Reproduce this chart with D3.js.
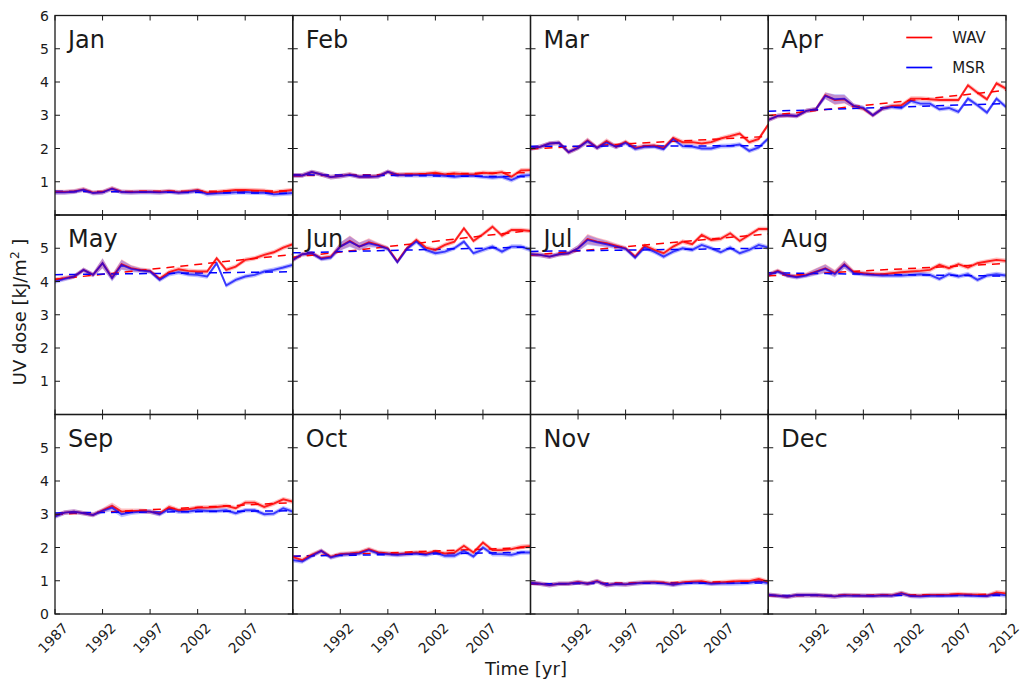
<!DOCTYPE html>
<html>
<head>
<meta charset="utf-8">
<script src="https://cdn.jsdelivr.net/npm/d3@7"></script>
<style>
  body { margin: 0; background: #fff; }
  svg { font-family: "DejaVu Sans", sans-serif; }
</style>
</head>
<body>
<svg id="chart" width="1025" height="687"></svg>
<script>
// years on the x axis, one value per year
const years = d3.range(1987, 2013);
const months = ["Jan", "Feb", "Mar", "Apr", "May", "Jun", "Jul", "Aug", "Sep", "Oct", "Nov", "Dec"];
const xTicks = [1987, 1992, 1997, 2002, 2007, 2012];
const yTicks = [0, 1, 2, 3, 4, 5, 6];

// monthly UV dose, WAV and MSR (kJ/m2)
const wavJan = [0.69,0.69,0.71,0.77,0.67,0.69,0.80,0.70,0.69,0.70,0.70,0.69,0.72,0.68,0.71,0.75,0.67,0.69,0.72,0.75,0.75,0.74,0.73,0.68,0.72,0.75];
const msrJan = [0.68,0.68,0.70,0.76,0.66,0.68,0.79,0.69,0.68,0.69,0.69,0.68,0.70,0.67,0.69,0.73,0.63,0.65,0.66,0.68,0.69,0.67,0.67,0.62,0.64,0.66];
const wavFeb = [1.19,1.19,1.29,1.22,1.14,1.17,1.22,1.15,1.15,1.17,1.30,1.21,1.22,1.23,1.24,1.27,1.22,1.25,1.23,1.22,1.27,1.25,1.29,1.15,1.34,1.35];
const msrFeb = [1.19,1.19,1.29,1.22,1.14,1.17,1.21,1.15,1.15,1.16,1.30,1.20,1.20,1.20,1.20,1.20,1.18,1.15,1.18,1.18,1.15,1.13,1.15,1.05,1.18,1.20];
const wavMar = [2.00,2.05,2.15,2.17,1.89,2.02,2.24,2.02,2.22,2.05,2.20,2.02,2.07,2.09,2.02,2.32,2.19,2.19,2.15,2.19,2.30,2.37,2.45,2.19,2.29,2.72];
const msrMar = [2.00,2.05,2.15,2.17,1.89,2.02,2.22,2.02,2.18,2.05,2.17,1.99,2.05,2.06,1.98,2.28,2.07,2.06,2.00,2.00,2.07,2.08,2.12,1.93,2.03,2.30];
const wavApr = [2.86,2.98,3.00,2.98,3.13,3.18,3.60,3.46,3.48,3.28,3.20,3.00,3.20,3.28,3.30,3.50,3.50,3.48,3.46,3.46,3.46,3.90,3.68,3.48,3.96,3.80];
const msrApr = [2.86,2.98,3.00,2.98,3.13,3.18,3.58,3.48,3.50,3.28,3.22,3.00,3.20,3.25,3.22,3.43,3.35,3.35,3.18,3.22,3.10,3.50,3.30,3.08,3.50,3.25];
const wavMay = [4.05,4.10,4.15,4.35,4.20,4.55,4.12,4.52,4.40,4.35,4.32,4.08,4.28,4.37,4.32,4.30,4.30,4.70,4.35,4.45,4.65,4.70,4.80,4.88,5.02,5.12];
const msrMay = [4.00,4.08,4.15,4.35,4.20,4.55,4.10,4.50,4.38,4.33,4.30,4.05,4.22,4.28,4.22,4.20,4.15,4.55,3.88,4.05,4.15,4.20,4.30,4.35,4.42,4.50];
const wavJun = [4.65,4.82,4.85,4.70,4.75,5.05,5.22,5.05,5.18,5.10,5.00,4.60,5.00,5.25,5.02,4.95,5.10,5.20,5.60,5.22,5.42,5.65,5.38,5.55,5.55,5.52];
const msrJun = [4.65,4.82,4.85,4.68,4.72,5.05,5.20,5.05,5.15,5.08,4.98,4.58,4.98,5.20,4.95,4.85,4.90,5.00,5.20,4.85,4.95,5.05,4.90,5.05,5.05,4.95];
const wavJul = [4.82,4.80,4.75,4.82,4.85,5.00,5.28,5.20,5.15,5.08,5.00,4.75,5.08,4.95,4.85,5.05,5.20,5.12,5.40,5.25,5.28,5.45,5.22,5.40,5.58,5.58];
const msrJul = [4.82,4.80,4.75,4.82,4.85,5.00,5.25,5.18,5.12,5.05,4.98,4.72,5.02,4.90,4.75,4.90,5.00,4.95,5.10,5.00,4.88,5.02,4.85,4.95,5.10,5.02];
const wavAug = [4.20,4.32,4.18,4.15,4.20,4.30,4.40,4.25,4.52,4.28,4.25,4.22,4.22,4.25,4.28,4.30,4.32,4.35,4.50,4.40,4.52,4.42,4.55,4.60,4.65,4.62];
const msrAug = [4.20,4.30,4.18,4.13,4.18,4.28,4.38,4.22,4.50,4.25,4.22,4.20,4.18,4.18,4.18,4.20,4.22,4.20,4.08,4.22,4.15,4.22,4.05,4.18,4.22,4.18];
const wavSep = [2.95,3.05,3.08,3.03,2.98,3.12,3.25,3.08,3.10,3.10,3.08,3.02,3.22,3.12,3.15,3.20,3.20,3.22,3.25,3.18,3.35,3.35,3.22,3.32,3.45,3.38];
const msrSep = [2.93,3.05,3.08,3.03,2.98,3.10,3.20,3.00,3.05,3.08,3.08,3.00,3.15,3.08,3.08,3.12,3.10,3.10,3.12,3.03,3.12,3.12,3.00,3.02,3.18,3.08];
const wavOct = [1.72,1.62,1.78,1.90,1.72,1.80,1.82,1.85,1.95,1.85,1.82,1.80,1.82,1.85,1.82,1.88,1.82,1.85,2.05,1.85,2.15,1.92,1.92,1.95,2.02,2.04];
const msrOct = [1.62,1.58,1.75,1.90,1.70,1.78,1.80,1.82,1.92,1.82,1.80,1.78,1.80,1.82,1.78,1.85,1.75,1.75,1.90,1.73,2.00,1.80,1.80,1.78,1.85,1.85];
const wavNov = [0.94,0.91,0.87,0.91,0.91,0.96,0.91,0.99,0.87,0.91,0.89,0.93,0.95,0.96,0.94,0.89,0.95,0.97,0.99,0.93,0.95,0.97,0.99,0.99,1.05,0.97];
const msrNov = [0.94,0.91,0.87,0.91,0.91,0.95,0.91,0.98,0.87,0.90,0.89,0.92,0.94,0.94,0.92,0.88,0.92,0.94,0.94,0.91,0.92,0.92,0.93,0.94,0.98,0.93];
const wavDec = [0.58,0.55,0.52,0.57,0.57,0.57,0.55,0.53,0.57,0.56,0.55,0.55,0.57,0.56,0.63,0.55,0.55,0.57,0.57,0.58,0.60,0.58,0.58,0.55,0.65,0.62];
const msrDec = [0.58,0.55,0.52,0.57,0.57,0.57,0.55,0.53,0.56,0.55,0.55,0.54,0.56,0.55,0.62,0.54,0.53,0.55,0.55,0.55,0.56,0.56,0.54,0.54,0.60,0.56];

const wavSeries = [wavJan, wavFeb, wavMar, wavApr, wavMay, wavJun, wavJul, wavAug, wavSep, wavOct, wavNov, wavDec];
const msrSeries = [msrJan, msrFeb, msrMar, msrApr, msrMay, msrJun, msrJul, msrAug, msrSep, msrOct, msrNov, msrDec];

// uncertainty half width, default plus the wider spots seen in the plot
const spreadDefault = 0.07;
const spreadWide = [
  ["Mar", 1993, 0.09], ["Mar", 1995, 0.09],
  ["Apr", 1993, 0.10], ["Apr", 1994, 0.15], ["Apr", 1995, 0.13],
  ["May", 1992, 0.15], ["May", 1993, 0.10], ["May", 1994, 0.15], ["May", 1995, 0.10],
  ["Jun", 1992, 0.12], ["Jun", 1993, 0.16], ["Jun", 1994, 0.12], ["Jun", 1995, 0.12],
  ["Jul", 1992, 0.10], ["Jul", 1993, 0.15], ["Jul", 1994, 0.12], ["Jul", 1995, 0.10],
  ["Aug", 1992, 0.10], ["Aug", 1993, 0.13], ["Aug", 1994, 0.10], ["Aug", 1995, 0.12],
  ["Sep", 1993, 0.10], ["Sep", 1994, 0.09]
];

const RED = "#ff0000", BLUE = "#0000ff", INK = "#1a1a1a";

// layout
const marginLeft = 55, marginTop = 15.5, pw = 237.75, ph = 199.5;
const svg = d3.select("#chart");

const x = d3.scaleLinear().domain([1987, 2012]).range([0, pw]);
const y = d3.scaleLinear().domain([0, 6]).range([ph, 0]);

function spreadFor(month, year) {
  const hit = spreadWide.find(s => s[0] === month && s[1] === year);
  return hit ? hit[2] : spreadDefault;
}

// least squares trend of one series
function trend(vals) {
  const mx = d3.mean(years), my = d3.mean(vals);
  let num = 0, den = 0;
  years.forEach((yr, i) => { num += (yr - mx) * (vals[i] - my); den += (yr - mx) ** 2; });
  const b = num / den;
  return [1987, 2012].map(yr => ({ yr, v: my + b * (yr - mx) }));
}

const line = d3.line().x(d => x(d.yr)).y(d => y(d.v));
const area = d3.area().x(d => x(d.yr)).y0(d => y(d.v - d.s)).y1(d => y(d.v + d.s));

months.forEach((m, k) => {
  const col = k % 4, row = Math.floor(k / 4);
  const g = svg.append("g").attr("transform", `translate(${marginLeft + col * pw},${marginTop + row * ph})`);

  g.append("clipPath").attr("id", "clip" + k)
    .append("rect").attr("width", pw).attr("height", ph);
  const plot = g.append("g").attr("clip-path", `url(#clip${k})`);

  const wav = years.map((yr, i) => ({ yr, v: wavSeries[k][i], s: spreadFor(m, yr) }));
  const msr = years.map((yr, i) => ({ yr, v: msrSeries[k][i], s: spreadFor(m, yr) }));

  plot.append("path").datum(wav).attr("d", area).attr("fill", RED).attr("fill-opacity", 0.25);
  plot.append("path").datum(msr).attr("d", area).attr("fill", BLUE).attr("fill-opacity", 0.25);

  plot.append("path").datum(trend(wavSeries[k])).attr("d", line)
    .attr("fill", "none").attr("stroke", RED).attr("stroke-width", 1.5).attr("stroke-dasharray", "8,6");
  plot.append("path").datum(trend(msrSeries[k])).attr("d", line)
    .attr("fill", "none").attr("stroke", BLUE).attr("stroke-width", 1.5).attr("stroke-dasharray", "8,6");

  plot.append("path").datum(wav).attr("d", line)
    .attr("fill", "none").attr("stroke", RED).attr("stroke-opacity", 0.85).attr("stroke-width", 1.9);
  plot.append("path").datum(msr).attr("d", line)
    .attr("fill", "none").attr("stroke", BLUE).attr("stroke-opacity", 0.7).attr("stroke-width", 1.9);

  // frame
  g.append("rect").attr("width", pw).attr("height", ph)
    .attr("fill", "none").attr("stroke", INK).attr("stroke-width", 1.3);

  // inward ticks on all four sides
  const tk = g.append("g").attr("stroke", INK).attr("stroke-width", 1);
  xTicks.forEach(t => {
    tk.append("line").attr("x1", x(t)).attr("x2", x(t)).attr("y1", ph).attr("y2", ph - 5);
    tk.append("line").attr("x1", x(t)).attr("x2", x(t)).attr("y1", 0).attr("y2", 5);
  });
  yTicks.forEach(t => {
    tk.append("line").attr("x1", 0).attr("x2", 5).attr("y1", y(t)).attr("y2", y(t));
    tk.append("line").attr("x1", pw).attr("x2", pw - 5).attr("y1", y(t)).attr("y2", y(t));
  });

  // y labels on the first column only
  if (col === 0) {
    const shown = row === 0 ? [1, 2, 3, 4, 5, 6] : row === 1 ? [1, 2, 3, 4, 5] : [0, 1, 2, 3, 4, 5];
    shown.forEach(t => {
      g.append("text").attr("x", -6).attr("y", y(t)).attr("dy", "0.36em")
        .attr("text-anchor", "end").attr("font-size", 14).attr("fill", INK).text(t);
    });
  }

  // rotated year labels on the bottom row
  if (row === 2) {
    const shown = xTicks.filter(t => (col === 0 || t !== 1987) && (col === 3 || t !== 2012));
    shown.forEach(t => {
      g.append("text")
        .attr("transform", `translate(${x(t) - 2},${ph + 24}) rotate(-45)`)
        .attr("text-anchor", "middle").attr("dominant-baseline", "central")
        .attr("font-size", 14).attr("fill", INK).text(t);
    });
  }

  g.append("text").attr("x", 13).attr("y", 32)
    .attr("font-size", 24).attr("fill", INK).text(m);

  // legend lives in the Apr panel
  if (m === "Apr") {
    [["WAV", RED], ["MSR", BLUE]].forEach(([name, c], i) => {
      const ly = 22 + i * 30;
      g.append("line").attr("x1", 138).attr("x2", 164).attr("y1", ly).attr("y2", ly)
        .attr("stroke", c).attr("stroke-width", 1.7);
      g.append("text").attr("x", 184).attr("y", ly).attr("dy", "0.36em")
        .attr("font-size", 15).attr("fill", INK).text(name);
    });
  }
});

// axis titles
svg.append("text").attr("x", 526).attr("y", 675).attr("text-anchor", "middle")
  .attr("font-size", 18).attr("fill", INK).text("Time [yr]");

const yl = svg.append("text").attr("transform", "translate(26,312) rotate(-90)")
  .attr("text-anchor", "middle").attr("font-size", 18).attr("fill", INK);
yl.append("tspan").text("UV dose [kJ/m");
yl.append("tspan").attr("font-size", 12).attr("dy", "-0.6em").text("2");
yl.append("tspan").attr("dy", "0.4em").text(" ]");
</script>
</body>
</html>
